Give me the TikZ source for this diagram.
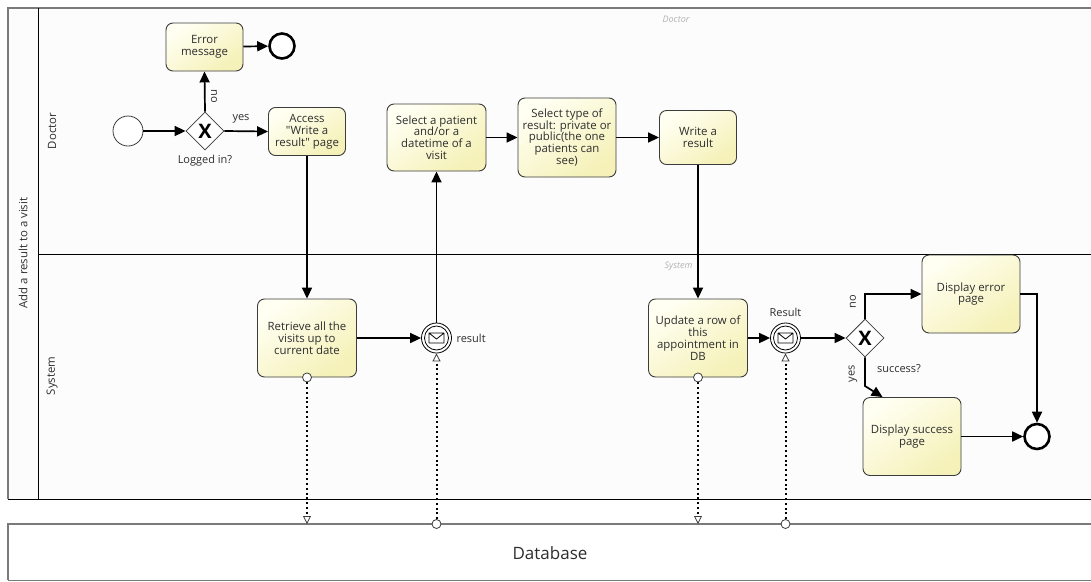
\documentclass[tikz,border=0pt]{standalone}
\usepackage{fontspec}
\setmainfont{Open Sans}[Ligatures=TeXOff]
\usetikzlibrary{arrows.meta,shapes.geometric,calc}
\definecolor{taskA}{HTML}{FFFFF2}
\definecolor{taskB}{HTML}{F5F1B8}
\definecolor{txt}{HTML}{2E2E2E}
\definecolor{poolgray}{HTML}{7A7A7A}
\definecolor{lanebg}{HTML}{FCFCFC}
\definecolor{edgegray}{HTML}{3C3C3C}

\begin{document}
\begin{tikzpicture}[x=1pt,y=-1pt,
  every node/.style={text=txt, font=\fontsize{11.4}{11.8}\selectfont},
  task/.style={draw=edgegray, line width=0.9pt, rounded corners=7pt,
    top color=taskA, bottom color=taskB, shading angle=35,
    align=center, inner sep=2pt},
  gateway/.style={diamond, draw=edgegray, line width=0.8pt, fill=white,
    minimum size=38pt, inner sep=0pt, text=black,
    font=\fontsize{20}{20}\selectfont\bfseries},
  startev/.style={circle, draw=edgegray, line width=0.8pt, fill=white,
    minimum size=30pt, inner sep=0pt},
  endev/.style={circle, draw=black, line width=2.6pt, fill=white,
    minimum size=25pt, inner sep=0pt},
  msgev/.style={circle, draw=black, line width=0.8pt, fill=white,
    minimum size=30pt, inner sep=0pt},
  flow/.style={draw=black, line width=1.7pt, -{Triangle[length=11pt,width=10pt]}},
  assoc/.style={draw=black, line width=2pt, dash pattern=on 2pt off 2.8pt},
  opentip/.style={-{Triangle[open, fill=white, length=8pt, width=8pt, line width=0.8pt, color=edgegray]}},
  dotend/.style={draw=edgegray, line width=0.8pt, fill=white},
  lbl/.style={font=\fontsize{11}{12}\selectfont},
  lanename/.style={font=\itshape\fontsize{9}{10}\selectfont, text=black!30}
]
\useasboundingbox (0,0) rectangle (1091,581);

% pool and lanes
\fill[lanebg] (8,8) rectangle (1091,499);
\draw[poolgray, line width=1.6pt] (8,499) -- (8,8) -- (1092,8);
\draw[black, line width=0.9pt] (8,499) -- (1092,499);
\draw[black, line width=0.8pt] (38,8) -- (38,499);
\draw[black, line width=0.8pt] (38,254) -- (1092,254);

\node[rotate=90] (pool) at (23,253) {Add a result to a visit};
\node[rotate=90] (laneD) at (52,131) {Doctor};
\node[rotate=90] (laneS) at (52,376) {System};
\node[lanename] (wmD) at (676,19) {Doctor};
\node[lanename, anchor=east] (wmS) at (696,266) {System};

% database pool
\node[minimum width=1084pt, minimum height=56pt, anchor=north west, inner sep=0pt] (db) at (8,524) {};
\draw[poolgray, line width=1.6pt] (8,580) -- (8,524) -- (1092,524);
\draw[poolgray, line width=1.0pt] (8,580) -- (1092,580);
\node[font=\fontsize{17}{19}\selectfont] (dbname) at (550,553) {Database};

% doctor lane
\node[startev] (start) at (128,131) {};
\node[gateway] (gw1) at (205,131) {X};
\node[lbl] (gw1lbl) at (205,161) {Logged in?};
\node[task, minimum width=77pt, minimum height=48pt] (err) at (204.5,47) {Error\\message};
\node[endev] (end1) at (282,46) {};
\node[task, minimum width=77pt, minimum height=48pt] (access) at (307,131.5) {Access\\"Write a\\result" page};
\node[task, minimum width=99pt, minimum height=67pt] (selpat) at (436.5,137.5) {Select a patient\\and/or a\\datetime of a\\visit};
\node[task, minimum width=98pt, minimum height=79pt] (seltype) at (567,137.5) {Select type of\\result: private or\\public(the one\\patients can\\see)};
\node[task, minimum width=77pt, minimum height=54pt] (write) at (698,137.5) {Write a\\result};

% system lane
\node[task, minimum width=99pt, minimum height=78pt] (retr) at (307,338) {Retrieve all the\\visits up to\\current date};
\node[msgev] (msg1) at (436.5,338) {};
\node[lbl, anchor=west] (msg1lbl) at (453,338) {result};
\node[task, minimum width=99pt, minimum height=78pt] (upd) at (698,338) {Update a row of\\this\\appointment in\\DB};
\node[msgev] (msg2) at (785.5,338) {};
\node[lbl] (msg2lbl) at (785.5,312) {Result};
\node[gateway] (gw2) at (865,338) {X};
\node[task, minimum width=98pt, minimum height=78pt] (derr) at (971,294) {Display error\\page};
\node[task, minimum width=98pt, minimum height=78pt] (dsucc) at (912,436.5) {Display success\\page};
\node[endev] (end2) at (1037,436.5) {};

% message markers
\foreach \m in {msg1,msg2}{
  \draw[black, line width=0.8pt] (\m.center) circle[radius=12pt];
  \draw[black, line width=0.8pt, line join=round, shift={(\m.center)}]
    (-7.5,-5) rectangle (7.5,5) (-7.5,-5) -- (0,1) -- (7.5,-5);
}

% sequence flows
\draw[flow] (start) -- (gw1);
\draw[flow] (gw1.north) -- (err.south);
\node[lbl, rotate=-90] (no1) at (214,96) {no};
\draw[flow] (err) -- (end1);
\draw[flow] (gw1.east) -- (access.west);
\node[lbl] (yes1) at (241,119) {yes};
\draw[flow] (access.south) -- (retr.north);
\draw[flow] (retr.east) -- (msg1.west);
\draw[flow] (msg1.north) -- (selpat.south);
\draw[flow] (selpat.east) -- (seltype.west);
\draw[flow] (seltype.east) -- (write.west);
\draw[flow] (write.south) -- (upd.north);
\draw[flow] (upd.east) -- (msg2.west);
\draw[flow] (msg2.east) -- (gw2.west);
\draw[flow] (gw2.north) |- (derr.west);
\node[lbl, rotate=90] (no2) at (853,302) {no};
\coordinate (ybend) at (865,386);
\draw[flow] (gw2.south) -- (ybend) -- ($(dsucc.north west)+(20,0)$);
\node[lbl, rotate=90] (yes2) at (853,374) {yes};
\node[lbl] (succlbl) at (899,369) {success?};
\draw[flow] (derr.east) -| (end2.north);
\draw[flow] (dsucc.east) -- (end2.west);

% data associations
\draw[assoc, opentip] (retr.south) -- (retr.south |- db.north);
\draw[dotend] (retr.south) circle[radius=4.5pt];
\draw[assoc, opentip] (msg1.south |- db.north) -- (msg1.south);
\draw[dotend] (msg1.south |- db.north) circle[radius=4.5pt];
\draw[assoc, opentip] (upd.south) -- (upd.south |- db.north);
\draw[dotend] (upd.south) circle[radius=4.5pt];
\draw[assoc, opentip] (msg2.south |- db.north) -- (msg2.south);
\draw[dotend] (msg2.south |- db.north) circle[radius=4.5pt];
\end{tikzpicture}
\end{document}
